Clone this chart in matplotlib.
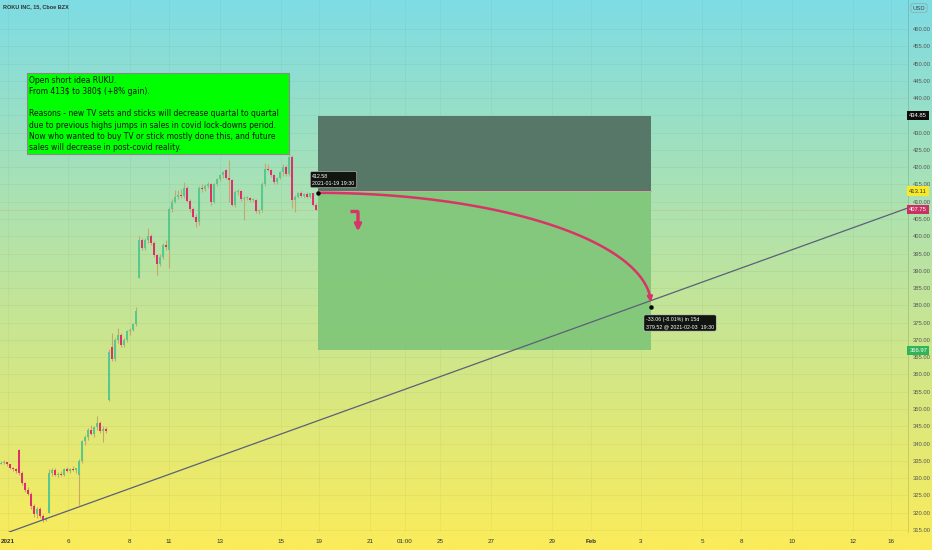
import numpy as np
import matplotlib
matplotlib.use("Agg")
import matplotlib.pyplot as plt
from matplotlib.patches import Rectangle
from matplotlib.colors import LinearSegmentedColormap

# ---------------- data ----------------
title = "ROKU INC, 15, Cboe BZX"
# candles (one slot per candle)
opens = [334.2, 334.5, 334.6, 334.0, 333.0, 332.6, 338.0, 331.5, 328.5, 326.5,
         325.5, 322.0, 319.5, 321.0, 319.0, 318.0, 320.0, 331.5, 332.4, 331.0,
         331.2, 330.9, 332.6, 332.0, 332.6, 332.4, 331.0, 335.0, 340.7, 342.0,
         343.9, 342.8, 344.8, 346.0, 343.5, 344.2, 352.6, 368.0, 364.5, 370.0,
         371.4, 368.5, 370.0, 372.5, 373.0, 374.5, 388.0, 399.0, 396.5, 399.0,
         400.0, 398.0, 394.5, 392.0, 394.0, 397.5, 396.0, 408.0, 410.0, 411.5,
         412.0, 411.6, 414.0, 410.2, 408.0, 405.6, 404.0, 414.0, 413.6, 414.5,
         415.2, 410.0, 415.0, 416.5, 417.7, 419.2, 417.0, 416.3, 409.1, 412.8,
         413.2, 410.8, 411.0, 411.2, 410.5, 410.5, 407.2, 407.5, 415.2, 419.5,
         419.2, 417.7, 415.6, 416.9, 418.6, 420.0, 418.0, 423.0, 410.5, 411.5,
         412.5, 411.8, 412.2, 411.5, 412.4, 409.1]
highs = [335.0, 335.2, 334.8, 333.8, 333.3, 332.8, 338.4, 332.0, 329.0, 327.5,
         326.0, 322.5, 321.5, 321.5, 319.5, 318.8, 332.5, 333.0, 332.8, 331.8,
         332.0, 333.0, 333.2, 333.0, 333.5, 333.0, 335.5, 341.0, 342.5, 344.5,
         345.5, 345.0, 348.0, 346.5, 345.0, 344.8, 367.5, 372.0, 370.5, 373.5,
         372.0, 370.5, 372.8, 373.5, 375.0, 379.5, 400.0, 399.5, 399.5, 402.4,
         400.8, 398.5, 395.0, 394.8, 398.0, 399.0, 408.5, 410.8, 413.4, 413.5,
         413.6, 415.7, 414.5, 410.8, 408.5, 406.5, 414.5, 415.0, 415.0, 415.7,
         415.5, 415.5, 417.0, 418.0, 419.0, 419.4, 422.1, 416.5, 413.5, 413.8,
         413.5, 411.8, 411.8, 411.5, 411.2, 410.8, 408.0, 415.6, 421.2, 420.8,
         419.6, 418.0, 417.2, 419.0, 420.8, 420.5, 424.5, 423.5, 412.0, 412.8,
         413.0, 412.6, 412.8, 412.6, 412.6, 409.5]
lows = [334.0, 334.0, 333.5, 332.5, 332.0, 331.5, 331.0, 328.0, 326.0, 325.0,
        321.0, 318.8, 318.5, 318.5, 317.3, 317.5, 319.8, 330.5, 330.5, 330.2,
        330.5, 330.6, 331.8, 331.5, 332.0, 331.5, 322.2, 334.5, 339.5, 341.0,
        342.5, 342.0, 344.0, 343.0, 340.5, 343.0, 352.4, 364.0, 364.0, 369.0,
        368.0, 368.0, 369.5, 371.5, 372.5, 374.0, 387.9, 396.0, 396.0, 398.0,
        397.5, 394.0, 388.8, 391.5, 393.5, 396.0, 390.8, 407.0, 409.5, 410.8,
        411.2, 411.0, 409.8, 407.0, 405.2, 402.7, 403.3, 412.8, 413.0, 414.0,
        409.1, 409.5, 414.5, 416.0, 417.0, 416.5, 409.9, 408.8, 408.5, 412.0,
        410.2, 404.7, 410.5, 410.0, 410.0, 406.8, 406.5, 407.0, 414.5, 418.8,
        417.2, 415.2, 415.0, 416.5, 417.5, 417.5, 417.5, 408.2, 407.0, 411.0,
        411.5, 411.2, 411.0, 411.2, 408.8, 407.5]
closes = [334.5, 334.6, 334.0, 333.0, 332.6, 332.0, 331.5, 328.5, 326.5, 325.5,
          322.0, 319.5, 321.0, 319.0, 318.0, 318.4, 331.5, 332.4, 331.0, 331.2,
          330.9, 332.6, 332.0, 332.6, 332.4, 332.8, 335.0, 340.7, 342.0, 343.9,
          342.8, 344.8, 346.0, 343.5, 344.2, 343.5, 366.5, 364.5, 370.0, 371.4,
          368.5, 370.0, 372.5, 373.0, 374.5, 378.5, 399.0, 396.5, 399.0, 400.0,
          398.0, 394.5, 392.0, 394.0, 397.5, 396.8, 408.0, 410.0, 411.5, 412.0,
          411.6, 414.0, 410.2, 408.0, 405.6, 404.0, 414.0, 413.6, 414.5, 415.2,
          410.0, 415.0, 416.5, 417.7, 418.6, 417.0, 416.3, 409.1, 412.8, 413.2,
          410.8, 411.0, 411.2, 410.5, 410.8, 407.2, 407.5, 415.2, 419.5, 419.2,
          417.7, 415.6, 416.9, 418.6, 420.0, 418.0, 423.0, 410.5, 411.5, 412.5,
          411.8, 412.2, 411.5, 412.4, 409.1, 407.75]

# x-axis labels (slot positions) and texts
date_ticks = [2.33, 22.33, 43, 56, 73, 93.33, 106, 123, 134.67, 146.33, 163.33,
              183.67, 196.67, 213.33, 233.67, 246.67, 263.67, 284, 296.67]
date_labels = ['2021', '6', '8', '11', '13', '15', '19', '21', '01:00', '25', '27',
               '29', 'Feb', '3', '5', '8', '10', '12', '16']

# position tool (short)
entry_slot, exit_slot = 105.67, 216.67
entry_price = 413.11
stop_price = 434.85
target_price = 366.97
last_price = 407.75
start_price = 412.58
end_price = 379.52
trend_p1 = (4.67, 315.0)
trend_p2 = (301.33, 407.9)

note = ("Open short idea RUKU.\n"
        "From 413\\$ to 380\\$ (+8% gain).\n\n"
        "Reasons - new TV sets and sticks will decrease quartal to quartal\n"
        "due to previous highs jumps in sales in covid lock-downs period.\n"
        "Now who wanted to buy TV or stick mostly done this, and future\n"
        "sales will decrease in post-covid reality.")

# ---------------- figure ----------------
W, H = 932, 550
fig = plt.figure(figsize=(W / 100, H / 100), dpi=100)

bg = fig.add_axes([0, 0, 1, 1], zorder=0)
cmap = LinearSegmentedColormap.from_list("g", ["#7edce4", "#fbec5a"])
bg.imshow(np.linspace(0, 1, 256).reshape(-1, 1), aspect='auto', cmap=cmap,
          extent=[0, 1, 0, 1], origin='upper')
bg.set_axis_off()

ax = fig.add_axes([0, 18 / H, 908 / W, 532 / H], zorder=1)
ax.set_facecolor('none')
ax.set_xlim(-0.33, 302.33)
ax.set_ylim(314.4, 468.4)
for s in ['top', 'left', 'bottom']:
    ax.spines[s].set_visible(False)
ax.spines['right'].set_color((0, 0, 0, 0.15))
ax.spines['right'].set_linewidth(0.6)

# grid
yt = np.arange(315, 461, 5)
for v in yt:
    ax.axhline(v, color=(0, 0, 0, 0.045), lw=0.6, zorder=0)
for t in date_ticks:
    ax.axvline(t, color=(0, 0, 0, 0.035), lw=0.6, zorder=0)

ax.yaxis.tick_right()
ax.set_yticks(yt)
ax.set_yticklabels(["" if v == 435 else f"{v:.2f}" for v in yt], fontsize=4.2,
                   color='#555555', family='Liberation Sans')
ax.tick_params(axis='y', length=0, pad=3.5)
ax.set_xticks(date_ticks)
ax.set_xticklabels(date_labels, fontsize=4.5, color='#333333', family='Liberation Sans')
for lab in ax.get_xticklabels():
    if lab.get_text() in ('2021', 'Feb'):
        lab.set_fontweight('bold')
ax.tick_params(axis='x', length=0, pad=5)

# candles
n = len(closes)
xs = np.arange(n)
up_col, dn_col, wick_col = '#55c98e', '#dd2f6e', '#c9a66a'
ax.vlines(xs, lows, highs, color=wick_col, lw=0.8, zorder=3)
o = np.array(opens); c = np.array(closes)
bottoms = np.minimum(o, c)
heights = np.maximum(np.abs(c - o), 0.3)
cols = [up_col if cc >= oo else dn_col for oo, cc in zip(o, c)]
ax.bar(xs, heights, bottom=bottoms, width=0.75, color=cols, zorder=4, linewidth=0)

# last price line
ax.axhline(last_price, color='#e0a060', lw=0.6, alpha=0.7, ls=(0, (1, 1)), zorder=2)

# position boxes
ax.add_patch(Rectangle((entry_slot, entry_price), exit_slot - entry_slot,
                       stop_price - entry_price, facecolor='#557565', edgecolor='none',
                       alpha=0.97, zorder=2))
ax.add_patch(Rectangle((entry_slot, target_price), exit_slot - entry_slot,
                       entry_price - target_price, facecolor='#7fc679', edgecolor='none',
                       alpha=0.92, zorder=2))
ax.plot([entry_slot, exit_slot], [entry_price, entry_price], color='#d9a0a0', lw=0.7, zorder=2.5)

# trend line
ax.axline(trend_p1, trend_p2, color='#5a6078', lw=0.9, zorder=5)

# curved arrow (quarter ellipse)
th = np.linspace(0, np.pi / 2, 100)
cx = entry_slot + (exit_slot - entry_slot) * np.sin(th)
cy = end_price + 0.6 + (start_price - end_price - 0.6) * np.cos(th)
ax.plot(cx[:-4], cy[:-4], color='#d83468', lw=1.8, zorder=6, solid_capstyle='round')
ax.annotate('', xy=(cx[-1], cy[-1]), xytext=(cx[-6], cy[-6]),
            arrowprops=dict(arrowstyle='-|>', color='#d83468', lw=1.8, mutation_scale=7),
            zorder=6)

# small bent arrow
ax.plot([116.3, 119.0], [407.3, 407.3], color='#d83468', lw=2.4, zorder=6,
        solid_capstyle='butt')
ax.annotate('', xy=(119.0, 400.6), xytext=(119.0, 407.8),
            arrowprops=dict(arrowstyle='-|>', color='#d83468', lw=2.4, mutation_scale=9),
            zorder=6)

# points
ax.plot([entry_slot], [start_price], 'o', color='black', ms=2.2, zorder=7)
ax.plot([exit_slot], [end_price], 'o', color='black', ms=2.2, zorder=7)

# tooltips
ax.text(103.8, 416.4, f"{start_price:.2f}\n2021-01-19 19:30", fontsize=3.8, color='white',
        ha='left', va='center', linespacing=1.5, family='Liberation Sans', zorder=8,
        bbox=dict(boxstyle='round,pad=0.4,rounding_size=0.3', fc='#101510', ec='#cccccc', lw=0.4))
ax.text(215.0, 374.9, f"{end_price - start_price:.2f} (-8.01%) in 15d\n{end_price:.2f} @ 2021-02-03  19:30",
        fontsize=3.8, color='white', ha='left', va='center', linespacing=1.5,
        family='Liberation Sans', zorder=8,
        bbox=dict(boxstyle='round,pad=0.4,rounding_size=0.3', fc='#101510', ec='#cccccc', lw=0.4))

# note box
bx0, by1 = 27 / 908, 1 - 73 / 532
bx1, by0 = 289 / 908, 1 - 154 / 532
ax.add_patch(Rectangle((bx0, by0), bx1 - bx0, by1 - by0, transform=ax.transAxes,
                       facecolor='#00ff00', edgecolor='#8a8a8a', lw=0.8, zorder=9))
ax.text(bx0 + 2 / 908, by1 - 2.5 / 532, note, transform=ax.transAxes, fontsize=5.5,
        color='#111111', ha='left', va='top', linespacing=1.33, zorder=10,
        family='DejaVu Sans')

# right-axis price labels
ytr = ax.get_yaxis_transform()
for val, fc, tc in [(stop_price, '#0d0d0d', 'white'), (entry_price, '#f7e92a', '#333333'),
                    (last_price, '#c73262', 'white'), (target_price, '#2fb457', 'white')]:
    ax.text(1.0015, val, f"{val:.2f}", transform=ytr, fontsize=4.2, color=tc,
            ha='left', va='center', family='Liberation Sans', zorder=10, clip_on=False,
            bbox=dict(boxstyle='square,pad=0.35', fc=fc, ec='none'))

# title and currency
fig.text(3 / W, 1 - 7 / H, title, fontsize=4.0, color='#333333', ha='left', va='center',
         family='Liberation Sans', fontweight='bold', zorder=10)
fig.text(919 / W, 1 - 8 / H, "USD", fontsize=4.2, color='#444444', ha='center', va='center',
         family='Liberation Sans', zorder=10,
         bbox=dict(boxstyle='round,pad=0.3', fc='none', ec='#999999', lw=0.4))

fig.savefig("out.png", dpi=100)
